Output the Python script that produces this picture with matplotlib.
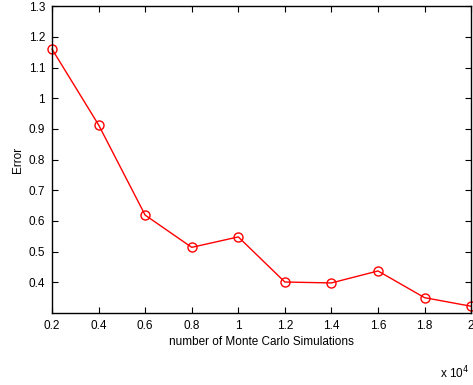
import matplotlib
matplotlib.use('Agg')
import matplotlib.pyplot as plt

# number of simulations (x 10^4) and the error measured at each
sims = [0.2, 0.4, 0.6, 0.8, 1.0, 1.2, 1.4, 1.6, 1.8, 2.0]
error = [1.16, 0.913, 0.619, 0.514, 0.548, 0.401, 0.398, 0.437, 0.35, 0.322]

x_ticks = [0.2, 0.4, 0.6, 0.8, 1.0, 1.2, 1.4, 1.6, 1.8, 2.0]
x_labels = ['0.2', '0.4', '0.6', '0.8', '1', '1.2', '1.4', '1.6', '1.8', '2']
y_ticks = [0.4, 0.5, 0.6, 0.7, 0.8, 0.9, 1.0, 1.1, 1.2, 1.3]
y_labels = ['0.4', '0.5', '0.6', '0.7', '0.8', '0.9', '1', '1.1', '1.2', '1.3']

plt.rcParams['font.family'] = ['Liberation Sans', 'DejaVu Sans']
plt.rcParams['font.size'] = 8.5

fig = plt.figure(figsize=(4.73, 3.85), dpi=100)
ax = fig.add_axes([0.110, 0.187, 0.886, 0.797])

ax.plot(sims, error, color='red', linewidth=1, marker='o', markersize=6.5,
        markerfacecolor='none', markeredgecolor='red', clip_on=False)

ax.set_xlim(0.2, 2.0)
ax.set_ylim(0.3, 1.3)
ax.set_xticks(x_ticks)
ax.set_xticklabels(x_labels)
ax.set_yticks(y_ticks)
ax.set_yticklabels(y_labels)
ax.tick_params(direction='in', length=4, width=0.8, top=True, right=True,
               labelsize=8.5, colors='black', pad=5)
for s in ax.spines.values():
    s.set_linewidth(1.0)

ax.set_xlabel('number of Monte Carlo Simulations', fontsize=8.5, labelpad=3)
ax.set_ylabel('Error', fontsize=8.5, labelpad=3)
fig.text(0.93, 0.01, r'x 10$^4$', fontsize=8.5, ha='left', va='bottom')

fig.savefig('out.png', dpi=100)
